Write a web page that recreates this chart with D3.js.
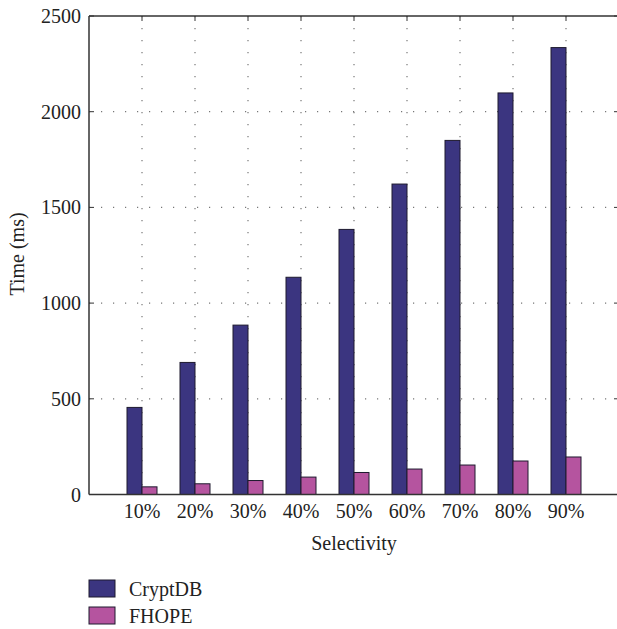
<!DOCTYPE html>
<html>
<head>
<meta charset="utf-8">
<script src="https://cdn.jsdelivr.net/npm/d3@7"></script>
<style>
  body { margin: 0; background: #fff; }
  svg { display: block; }
</style>
</head>
<body>
<div id="chart"></div>
<script>
// data
const categories = ["10%", "20%", "30%", "40%", "50%", "60%", "70%", "80%", "90%"];
const cryptdb = [455, 690, 885, 1135, 1385, 1622, 1850, 2098, 2335];
const fhope = [40, 56, 73, 91, 115, 133, 154, 175, 196];
const seriesNames = ["CryptDB", "FHOPE"];
const yTicks = [0, 500, 1000, 1500, 2000, 2500];

const width = 617, height = 629;
const colors = ["#3b3580", "#b5549f"];
const font = "'Liberation Serif', 'DejaVu Serif', serif";
const fontSize = 20;

const svg = d3.select("#chart").append("svg")
    .attr("width", width)
    .attr("height", height)
    .style("font-family", font);

// category i sits at position i + 1 on a 0..10 axis
const x = d3.scaleLinear().domain([0, categories.length + 1]).range([89, 619]);
const y = d3.scaleLinear().domain([0, 2500]).range([494.5, 16]);
const barW = 15;

const grid = svg.append("g")
    .attr("stroke", "#777")
    .attr("stroke-width", 1.2)
    .attr("stroke-dasharray", "1.2,10.8");

// horizontal dotted grid
grid.selectAll("line.h")
    .data(yTicks.filter(d => d > 0 && d < 2500))
    .join("line")
    .attr("class", "h")
    .attr("x1", x(0)).attr("x2", x(categories.length + 1))
    .attr("y1", d => y(d)).attr("y2", d => y(d));

// vertical dotted grid
grid.selectAll("line.v")
    .data(categories)
    .join("line")
    .attr("class", "v")
    .attr("x1", (d, i) => x(i + 1)).attr("x2", (d, i) => x(i + 1))
    .attr("y1", y(2500)).attr("y2", y(0));

// bars
const series = [cryptdb, fhope];
series.forEach((vals, s) => {
    svg.append("g")
        .selectAll("rect")
        .data(vals)
        .join("rect")
        .attr("x", (d, i) => x(i + 1) + (s === 0 ? -barW : 0))
        .attr("y", d => y(d))
        .attr("width", barW)
        .attr("height", d => y(0) - y(d))
        .attr("fill", colors[s])
        .attr("stroke", "#1e1a2e")
        .attr("stroke-width", 1);
});

// frame
const frame = svg.append("g").attr("stroke", "#333").attr("fill", "none");
const xMax = x(categories.length + 1);
[[x(0), y(2500), x(0), y(0)],
 [x(0), y(0), xMax, y(0)],
 [x(0), y(2500), xMax, y(2500)],
 [xMax, y(2500), xMax, y(0)]].forEach(([x1, y1, x2, y2]) => {
    frame.append("line")
        .attr("x1", x1).attr("y1", y1)
        .attr("x2", x2).attr("y2", y2)
        .attr("stroke-width", 1.5);
});

// inward ticks on left/right, downward on top
frame.selectAll("line.lt")
    .data(yTicks)
    .join("line")
    .attr("class", "lt")
    .attr("x1", x(0)).attr("x2", x(0) + 5)
    .attr("y1", d => y(d)).attr("y2", d => y(d));
frame.selectAll("line.rt")
    .data(yTicks)
    .join("line")
    .attr("class", "rt")
    .attr("x1", xMax - 5).attr("x2", xMax)
    .attr("y1", d => y(d)).attr("y2", d => y(d));
frame.selectAll("line.tt")
    .data(categories)
    .join("line")
    .attr("class", "tt")
    .attr("x1", (d, i) => x(i + 1)).attr("x2", (d, i) => x(i + 1))
    .attr("y1", y(2500)).attr("y2", y(2500) + 5);

// y tick labels
svg.append("g")
    .selectAll("text")
    .data(yTicks)
    .join("text")
    .attr("x", 81)
    .attr("y", d => y(d))
    .attr("dy", "0.35em")
    .attr("text-anchor", "end")
    .attr("font-size", fontSize)
    .attr("fill", "#222")
    .text(d => d);

// x tick labels
svg.append("g")
    .selectAll("text")
    .data(categories)
    .join("text")
    .attr("x", (d, i) => x(i + 1))
    .attr("y", 518)
    .attr("text-anchor", "middle")
    .attr("font-size", fontSize)
    .attr("fill", "#222")
    .text(d => d);

// axis titles
svg.append("text")
    .attr("x", 354)
    .attr("y", 550)
    .attr("text-anchor", "middle")
    .attr("font-size", fontSize)
    .attr("fill", "#222")
    .text("Selectivity");

svg.append("text")
    .attr("transform", "translate(24,254) rotate(-90)")
    .attr("text-anchor", "middle")
    .attr("font-size", fontSize)
    .attr("fill", "#222")
    .text("Time (ms)");

// legend
const legend = svg.append("g")
    .selectAll("g")
    .data(seriesNames)
    .join("g")
    .attr("transform", (d, i) => `translate(89,${580 + i * 27})`);
legend.append("rect")
    .attr("width", 26)
    .attr("height", 17)
    .attr("fill", (d, i) => colors[i])
    .attr("stroke", "#1e1a2e")
    .attr("stroke-width", 1);
legend.append("text")
    .attr("x", 40)
    .attr("y", 16)
    .attr("font-size", fontSize)
    .attr("fill", "#222")
    .text(d => d);
</script>
</body>
</html>
